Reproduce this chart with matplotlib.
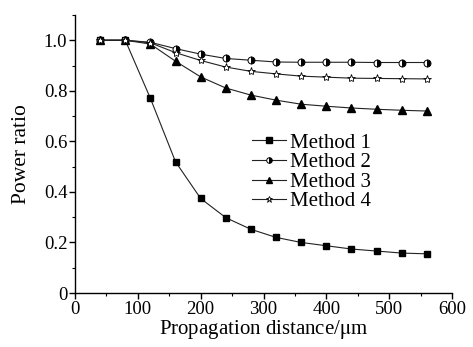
import matplotlib
matplotlib.use("Agg")
import matplotlib.pyplot as plt
from matplotlib.ticker import MultipleLocator

plt.rcParams['font.family'] = ['Liberation Serif', 'DejaVu Serif']
plt.rcParams['mathtext.fontset'] = 'stix'

distance = [40, 80, 120, 160, 200, 240, 280, 320, 360, 400, 440, 480, 520, 560]
method1 = [1.0, 1.0, 0.77, 0.519, 0.374, 0.298, 0.252, 0.22, 0.2, 0.187, 0.174, 0.166, 0.158, 0.155]
method2 = [1.0, 1.0, 0.992, 0.967, 0.945, 0.928, 0.921, 0.914, 0.913, 0.913, 0.913, 0.912, 0.912, 0.912]
method3 = [1.0, 1.0, 0.985, 0.917, 0.855, 0.811, 0.783, 0.763, 0.747, 0.739, 0.732, 0.727, 0.723, 0.72]
method4 = [1.0, 1.0, 0.99, 0.951, 0.92, 0.894, 0.877, 0.867, 0.858, 0.854, 0.85, 0.849, 0.848, 0.847]

fig = plt.figure(figsize=(4.73, 3.47), dpi=100)
ax = fig.add_axes([0.1586, 0.1556, 0.797, 0.8012])

lc = '#222222'
ax.plot(distance, method1, color=lc, lw=0.8, marker='s', ms=5, mfc='black', mec='black', label='Method 1')
ax.plot(distance, method2, color=lc, lw=0.8, marker='o', ms=5, fillstyle='right', mfc='black',
        markerfacecoloralt='white', mec='black', mew=0.7, label='Method 2')
ax.plot(distance, method3, color=lc, lw=0.8, marker='^', ms=6, mfc='black', mec='black', label='Method 3')
ax.plot(distance, method4, color=lc, lw=0.8, marker='*', ms=6, mfc='white', mec='black', mew=0.6, label='Method 4')

ax.set_xlim(0, 600)
ax.set_ylim(0, 1.1)
ax.xaxis.set_major_locator(MultipleLocator(100))
ax.xaxis.set_minor_locator(MultipleLocator(50))
ax.yaxis.set_minor_locator(MultipleLocator(0.1))
ax.set_yticks([0, 0.2, 0.4, 0.6, 0.8, 1.0])
ax.set_yticklabels(['0', '0.2', '0.4', '0.6', '0.8', '1.0'])

for s in ['top', 'right']:
    ax.spines[s].set_visible(False)
for s in ['left', 'bottom']:
    ax.spines[s].set_linewidth(1.0)

ax.tick_params(which='major', direction='out', length=4, width=1, labelsize=13.5, pad=1.5)
ax.tick_params(which='minor', direction='out', length=2, width=0.8)

ax.set_xlabel('Propagation distance/$\\mathrm{\\mu}$m', fontsize=15, labelpad=0)
ax.set_ylabel('Power ratio', fontsize=15.5, labelpad=9)

ax.legend(loc='upper left', bbox_to_anchor=(0.47, 0.575), frameon=False, fontsize=15,
          handlelength=1.6, handletextpad=0.2, labelspacing=0, borderpad=0,
          borderaxespad=0, markerscale=0.8)

fig.savefig('out.png', dpi=100)
